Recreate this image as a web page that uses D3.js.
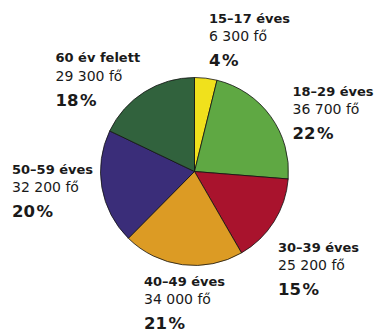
<!DOCTYPE html>
<html>
<head>
<meta charset="utf-8">
<script src="https://cdn.jsdelivr.net/npm/d3@7/dist/d3.min.js"></script>
<style>
  html, body { margin: 0; padding: 0; background: #fff; }
  svg { display: block; }
  text { font-family: "DejaVu Sans", "Noto Sans", sans-serif; fill: #1a1a1a; }
</style>
</head>
<body>
<svg id="chart" width="376" height="334"></svg>
<script>
// Age groups, headcounts and their shares
const categories = ["15–17 éves", "18–29 éves", "30–39 éves", "40–49 éves", "50–59 éves", "60 év felett"];
const counts = [6300, 36700, 25200, 34000, 32200, 29300];
const countLabels = ["6 300 fő", "36 700 fő", "25 200 fő", "34 000 fő", "32 200 fő", "29 300 fő"];
const percentValues = [4, 22, 15, 21, 20, 18];
const colors = ["#f0e11c", "#5fa843", "#a9132d", "#dc9b24", "#3a2d79", "#31623d"];

// Left edge and first-line baseline of each label block
const labelAnchors = [[209, 22.5], [292.5, 95.5], [278, 252], [144, 285.5], [12, 174], [55.5, 62.3]];

const svg = d3.select("#chart");
const cx = 194.5, cy = 171.5, r = 94;

const pie = d3.pie().sort(null).value(d => d.count);
const arc = d3.arc().innerRadius(0).outerRadius(r);

const rows = categories.map((c, i) => ({
  name: c, count: counts[i], countLabel: countLabels[i], pct: percentValues[i], color: colors[i]
}));

svg.append("g")
  .attr("transform", `translate(${cx},${cy})`)
  .selectAll("path")
  .data(pie(rows))
  .join("path")
  .attr("d", arc)
  .attr("fill", d => d.data.color)
  .attr("stroke", "#111")
  .attr("stroke-width", 0.8)
  .attr("stroke-linejoin", "round");

const labels = svg.append("g")
  .selectAll("g")
  .data(rows)
  .join("g")
  .attr("transform", (d, i) => `translate(${labelAnchors[i][0]},${labelAnchors[i][1]})`);

labels.append("text")
  .attr("font-size", 13)
  .attr("font-weight", 700)
  .text(d => d.name);

labels.append("text")
  .attr("y", 18.3)
  .attr("font-size", 14)
  .text(d => d.countLabel);

const pctText = labels.append("text")
  .attr("y", 43.3)
  .attr("font-size", 16.5)
  .attr("font-weight", 700);
pctText.append("tspan").text(d => d.pct);
pctText.append("tspan").attr("dx", 1.5).text("%");
</script>
</body>
</html>
